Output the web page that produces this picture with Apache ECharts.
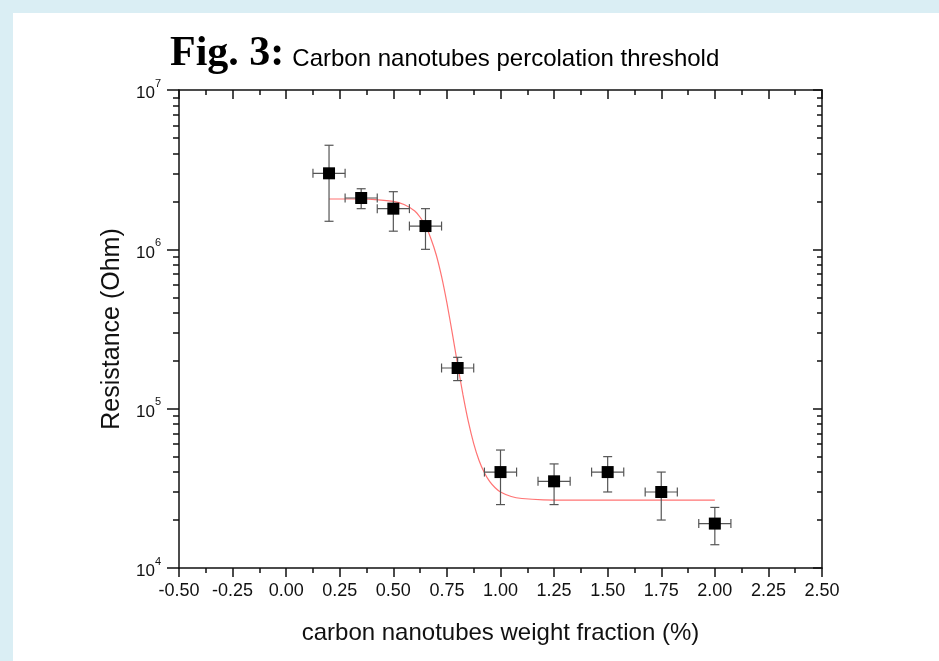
<!DOCTYPE html>
<html>
<head>
<meta charset="utf-8">
<script src="https://cdn.jsdelivr.net/npm/echarts@6/dist/echarts.min.js"></script>
<style>
html,body{margin:0;padding:0;width:939px;height:661px;overflow:hidden;background:#daeef4;}
#panel{position:absolute;left:13px;top:13px;right:0;bottom:0;background:#fff;}
#chart{position:absolute;left:0;top:0;width:939px;height:661px;}
</style>
</head>
<body>
<div id="panel"></div>
<div id="chart"></div>
<script>
// measured data (weight fraction %, resistance Ohm)
const xVals = [0.2, 0.35, 0.5, 0.65, 0.8, 1.0, 1.25, 1.5, 1.75, 2.0];
const rVals = [3.0e6, 2.1e6, 1.8e6, 1.4e6, 1.8e5, 4.0e4, 3.5e4, 4.0e4, 3.0e4, 1.9e4];
const rHigh = [4.5e6, 2.4e6, 2.3e6, 1.8e6, 2.1e5, 5.5e4, 4.5e4, 5.0e4, 4.0e4, 2.4e4];
const rLow  = [1.5e6, 1.8e6, 1.3e6, 1.0e6, 1.5e5, 2.5e4, 2.5e4, 3.0e4, 2.0e4, 1.4e4];
const xErr  = [0.075, 0.075, 0.075, 0.075, 0.075, 0.075, 0.075, 0.075, 0.075, 0.075];

// fitted curve
const fitX = [0.2, 0.3, 0.4, 0.5, 0.55, 0.6, 0.625, 0.65, 0.675, 0.7, 0.725, 0.75, 0.775, 0.8, 0.825, 0.85, 0.875, 0.9, 0.925, 0.95, 0.975, 1.0, 1.05, 1.1, 1.2, 1.4, 1.7, 2.0];
const fitR = [2.07e6, 2.07e6, 2.06e6, 2.0e6, 1.91e6, 1.74e6, 1.59e6, 1.41e6, 1.17e6, 9.25e5, 6.76e5, 4.61e5, 2.98e5, 1.89e5, 1.22e5, 8.28e4, 6.04e4, 4.73e4, 3.96e4, 3.48e4, 3.19e4, 3.0e4, 2.81e4, 2.73e4, 2.68e4, 2.67e4, 2.67e4, 2.67e4];

// ticks
const xTickMin = -0.5, xTickMax = 2.5, xTickStep = 0.25;
const yMajor = [1e4, 1e5, 1e6, 1e7];
const yMinor = [2e4,3e4,4e4,5e4,6e4,7e4,8e4,9e4, 2e5,3e5,4e5,5e5,6e5,7e5,8e5,9e5, 2e6,3e6,4e6,5e6,6e6,7e6,8e6,9e6];

const chart = echarts.init(document.getElementById('chart'), null, {renderer:'canvas'});
const lineCol = '#111';
const sans = 'Liberation Sans, Arial, sans-serif';

function yAx(pos, ticks, len, inside, showLine, showLabel, extra) {
  return Object.assign({
    type:'log', logBase:10, min:1e4, max:1e7, position:pos, gridIndex:0,
    axisLine:{show:showLine, onZero:false, lineStyle:{color:lineCol, width:1.5}},
    axisTick:{show:true, inside:inside, length:len, customValues:ticks, lineStyle:{color:lineCol, width:1.5}},
    axisLabel:{show:showLabel},
    splitLine:{show:false}, minorTick:{show:false}, minorSplitLine:{show:false}
  }, extra||{});
}

const errData = xVals.map((x,i)=>[x, rVals[i], rLow[i], rHigh[i], xErr[i]]);

chart.setOption({
  animation:false,
  backgroundColor:'transparent',
  title:{
    text:'{a|Fig. 3:} {b|Carbon nanotubes percolation threshold}',
    left:165, top:26,
    textStyle:{
      fontWeight:'normal',
      rich:{
        a:{fontFamily:'Liberation Serif, Times New Roman, serif', fontWeight:'bold', fontSize:42, color:'#000', lineHeight:46},
        b:{fontFamily:sans, fontWeight:'normal', fontSize:24, color:'#000', lineHeight:46, verticalAlign:'bottom', padding:[0,0,6,3]}
      }
    }
  },
  grid:{left:179, top:90, width:643, height:478, containLabel:false},
  xAxis:[
    {type:'value', min:xTickMin, max:xTickMax, interval:xTickStep, position:'bottom',
     axisLine:{show:true, onZero:false, lineStyle:{color:lineCol, width:1.5}},
     axisTick:{show:true, inside:false, length:9, lineStyle:{color:lineCol, width:1.5}},
     minorTick:{show:true, splitNumber:2, length:5, lineStyle:{color:lineCol, width:1.5}},
     axisLabel:{show:true, margin:14, fontFamily:sans, fontSize:18, color:'#111',
       formatter:v=>v.toFixed(2)},
     splitLine:{show:false},
     name:'carbon nanotubes weight fraction (%)', nameLocation:'middle', nameGap:53,
     nameTextStyle:{fontFamily:sans, fontSize:24, color:'#111'}
    },
    {type:'value', min:xTickMin, max:xTickMax, interval:xTickStep, position:'top',
     axisLine:{show:true, onZero:false, lineStyle:{color:lineCol, width:1.5}},
     axisTick:{show:true, inside:true, length:9, lineStyle:{color:lineCol, width:1.5}},
     minorTick:{show:true, splitNumber:2, length:5, lineStyle:{color:lineCol, width:1.5}},
     axisLabel:{show:false}, splitLine:{show:false}
    }
  ],
  yAxis:[
    yAx('left', yMajor, 12, false, true, true, {
      axisLabel:{show:true, customValues:yMajor, margin:18,
        formatter:v=>'{b|10}{s|' + Math.round(Math.log10(v)) + '}',
        rich:{
          b:{fontFamily:sans, fontSize:17, color:'#111', lineHeight:24, verticalAlign:'bottom'},
          s:{fontFamily:sans, fontSize:11, color:'#111', lineHeight:24, verticalAlign:'top'}
        }},
      name:'Resistance (Ohm)', nameLocation:'middle', nameGap:54,
      nameTextStyle:{fontFamily:sans, fontSize:25, color:'#111'}
    }),
    yAx('left', yMinor, 6, false, false, false),
    yAx('right', yMajor, 9, true, true, false),
    yAx('right', yMinor, 5, true, false, false)
  ],
  series:[
    {
      type:'line', xAxisIndex:0, yAxisIndex:0,
      data:fitX.map((x,i)=>[x, fitR[i]]),
      showSymbol:false, symbol:'none', smooth:0.2,
      lineStyle:{color:'#ff5a5a', width:1.2, opacity:0.85},
      z:2, silent:true
    },
    {
      type:'custom', xAxisIndex:0, yAxisIndex:0,
      data:errData,
      encode:{x:0, y:[1,2,3]},
      renderItem:function(params, api){
        const x=api.value(0), y=api.value(1), lo=api.value(2), hi=api.value(3), xe=api.value(4);
        const pHi=api.coord([x,hi]), pLo=api.coord([x,lo]);
        const pL=api.coord([x-xe,y]), pR=api.coord([x+xe,y]);
        const cap=4.5;
        const st={stroke:'#555', lineWidth:1.2};
        const L=(x1,y1,x2,y2)=>({type:'line', shape:{x1,y1,x2,y2}, style:st});
        return {type:'group', children:[
          L(pHi[0],pHi[1],pLo[0],pLo[1]),
          L(pHi[0]-cap,pHi[1],pHi[0]+cap,pHi[1]),
          L(pLo[0]-cap,pLo[1],pLo[0]+cap,pLo[1]),
          L(pL[0],pL[1],pR[0],pR[1]),
          L(pL[0],pL[1]-cap,pL[0],pL[1]+cap),
          L(pR[0],pR[1]-cap,pR[0],pR[1]+cap)
        ]};
      },
      z:3, silent:true
    },
    {
      type:'scatter', xAxisIndex:0, yAxisIndex:0,
      data:xVals.map((x,i)=>[x, rVals[i]]),
      symbol:'rect', symbolSize:12,
      itemStyle:{color:'#000', opacity:1},
      z:4, silent:true
    }
  ]
});
</script>
</body>
</html>
